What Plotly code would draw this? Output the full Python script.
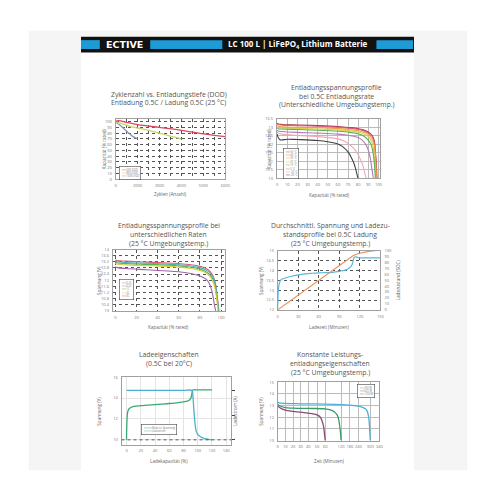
import plotly.graph_objects as go
import numpy as np

W = H = 500
FONT = "Open Sans"

# ---------------- DATA ----------------
# Plot 1: cycle life vs DOD (axis labels as printed on the sheet)
p1_ticks = [0, 2000, 3000, 4000, 5000, 6000]
p1_tickpos = [0, 1, 2, 3, 4, 5]
p1_names = ["100% DOD", "80% DOD", "50% DOD"]
p1_colors = ["#8a93b8", "#c9d46a", "#d64a5c"]
p1_x = [[0, 400, 800, 1200, 1600, 2000],
        [0, 500, 1000, 1500, 2000, 2500, 3000, 3500, 4000],
        [0, 300, 1000, 2000, 3000, 4000, 5000, 6000]]
p1_y = [[99, 94, 87, 80, 74, 70],
        [100, 97, 94, 91, 89, 85, 80, 75, 70],
        [101, 102, 99, 95, 90, 85, 79, 74]]

# Plot 2: discharge at 0.5C, different temperatures
p2_names = ["55 °C", "45 °C", "35 °C", "25 °C", "15 °C", "5 °C", "-10 °C", "-20 °C"]
p2_colors = ["#a8324a", "#e0607a", "#f0a040", "#d8d040", "#58b058", "#b57ab8", "#f0a8b8", "#404040"]
p2_x = [[0, 1, 5, 20, 40, 60, 70, 80, 85, 90, 94, 96, 97, 98, 98.5],
        [0, 1, 5, 20, 40, 60, 70, 80, 85, 90, 94, 96, 97, 98, 98.5],
        [0, 1, 5, 20, 40, 60, 70, 80, 85, 90, 94, 96, 97, 97.5, 98],
        [0, 1, 5, 20, 40, 60, 70, 80, 85, 90, 93, 95, 96, 97, 97.5],
        [0, 1, 5, 20, 40, 60, 70, 80, 85, 90, 93, 95, 96, 96.5, 97],
        [0, 1, 5, 20, 40, 60, 70, 80, 84, 88, 90, 92, 93, 94, 95],
        [0, 1, 5, 20, 40, 60, 65, 70, 75, 80, 83, 85, 86, 87, 88],
        [0, 1, 3, 10, 20, 40, 50, 60, 65, 70, 73, 76, 78, 79, 80]]
p2_y = [[13.25, 13.2, 13.17, 13.14, 13.1, 13.04, 12.99, 12.92, 12.85, 12.72, 12.5, 12.2, 11.6, 10.8, 10.0],
        [13.2, 13.16, 13.13, 13.1, 13.06, 13.0, 12.95, 12.88, 12.8, 12.66, 12.44, 12.1, 11.5, 10.7, 10.0],
        [13.1, 13.06, 13.03, 13.0, 12.97, 12.92, 12.87, 12.8, 12.72, 12.57, 12.3, 11.9, 11.3, 10.6, 10.0],
        [13.02, 12.99, 12.96, 12.94, 12.9, 12.85, 12.8, 12.72, 12.62, 12.45, 12.2, 11.8, 11.2, 10.6, 10.0],
        [12.95, 12.92, 12.9, 12.87, 12.83, 12.77, 12.72, 12.62, 12.5, 12.25, 11.95, 11.4, 10.9, 10.5, 10.0],
        [12.82, 12.78, 12.75, 12.7, 12.66, 12.6, 12.53, 12.4, 12.25, 11.95, 11.65, 11.2, 10.8, 10.4, 10.0],
        [12.72, 12.66, 12.6, 12.52, 12.45, 12.32, 12.22, 12.05, 11.8, 11.4, 11.0, 10.7, 10.45, 10.2, 10.0],
        [12.6, 12.4, 12.26, 12.3, 12.28, 12.22, 12.15, 12.02, 11.85, 11.55, 11.25, 10.85, 10.45, 10.2, 10.0]]

# Plot 3: discharge at different rates (25 °C)
p3_names = ["0.2C", "0.5C", "1C", "2C", "3C"]
p3_colors = ["#d8607a", "#48b0c0", "#58b058", "#d8d040", "#a060a8"]
p3_x = [[0, 2, 10, 30, 50, 60, 70, 80, 85, 90, 93, 95, 96, 97, 98],
        [0, 2, 10, 30, 50, 60, 70, 80, 85, 90, 93, 95, 96, 97, 97.8],
        [0, 2, 10, 30, 50, 60, 70, 80, 85, 90, 93, 95, 96, 97, 97.5],
        [0, 2, 10, 30, 50, 60, 70, 80, 85, 90, 93, 95, 96, 96.7, 97],
        [0, 2, 10, 30, 50, 60, 70, 80, 85, 88, 90, 92, 93, 94, 95]]
p3_y = [[13.32, 13.28, 13.24, 13.18, 13.12, 13.08, 13.02, 12.9, 12.8, 12.55, 12.2, 11.7, 11.2, 10.6, 10.0],
        [13.25, 13.2, 13.15, 13.1, 13.05, 13.0, 12.94, 12.82, 12.7, 12.45, 12.1, 11.6, 11.0, 10.5, 10.0],
        [13.18, 13.12, 13.08, 13.03, 12.98, 12.93, 12.86, 12.72, 12.58, 12.3, 11.95, 11.4, 10.9, 10.4, 10.0],
        [13.1, 13.05, 13.0, 12.95, 12.9, 12.85, 12.78, 12.64, 12.5, 12.2, 11.8, 11.2, 10.7, 10.3, 10.0],
        [12.88, 12.82, 12.76, 12.68, 12.6, 12.55, 12.45, 12.28, 12.1, 11.9, 11.6, 11.1, 10.7, 10.3, 10.0]]

# Plot 4: average voltage & SOC at 0.5C charge
p4_t = [0, 0.5, 1, 2, 3, 5, 10, 20, 30, 40, 50, 60, 70, 80, 90, 100, 104, 107, 109, 110, 111, 112, 114, 117, 120, 130, 140, 150]
p4_v = [12.1, 12.6, 13.0, 13.25, 13.4, 13.52, 13.6, 13.7, 13.77, 13.82, 13.85, 13.87, 13.88, 13.9, 13.95, 14.02, 14.1, 14.2, 14.32, 14.45, 14.6, 14.66, 14.68, 14.65, 14.63, 14.63, 14.63, 14.63]
p4_soc_t = [0, 30, 60, 90, 110, 118, 125, 135, 145, 150]
p4_soc = [0, 25, 50, 75, 91, 95, 97, 99, 100, 100]

# Plot 5: charge characteristics 0.5C at 20 °C
p5_names = ["Batterie-Spannung", "Ladestrom"]
p5_colors = ["#3aa874", "#4ab0cc"]
p5_cap = [0, 0.3, 0.8, 1.5, 2.5, 4, 6, 10, 20, 30, 40, 50, 60, 70, 80, 85, 88, 90, 91, 92, 93, 100, 110, 120]
p5_volt = [10.0, 11.2, 12.1, 12.6, 12.85, 13.0, 13.1, 13.2, 13.27, 13.32, 13.38, 13.43, 13.48, 13.55, 13.63, 13.7, 13.8, 13.95, 14.15, 14.5, 14.78, 14.78, 14.78, 14.78]
p5_icap = [0, 20, 40, 60, 80, 92, 93, 94, 95, 96, 97, 98, 100, 103, 106, 110, 115, 120]
p5_curr = [50, 50, 50, 50, 50, 50, 46, 36, 26, 18, 12, 8.5, 5.5, 3.5, 2.2, 1.2, 0.5, 0]
p5_curr_ticks = [0, 25, 50]

# Plot 6: constant power discharge (axis labels as printed on the sheet)
p6_names = ["250 W", "625 W", "1250 W"]
p6_colors = ["#4ab0d8", "#3a9a6a", "#8a4a7a"]
p6_ticks = [0, 10, 20, 30, 40, 50, 60, 120, 180, 240, 300, 340]
p6_tickpos = [0, 7.5, 15.2, 22.5, 30, 38.7, 46.8, 62.3, 71, 79.4, 91, 100]
p6_t = [[0, 2, 10, 30, 60, 120, 180, 220, 240, 260, 275, 285, 292, 297, 300],
        [0, 2, 10, 20, 40, 60, 80, 95, 105, 110, 114, 117, 119, 120],
        [0, 2, 10, 20, 30, 40, 50, 54, 56, 58, 59, 60]]
p6_v = [[13.3, 13.22, 13.18, 13.15, 13.12, 13.08, 13.03, 12.98, 12.95, 12.85, 12.72, 12.5, 12.0, 11.0, 10.0],
        [13.1, 13.0, 12.82, 12.78, 12.75, 12.72, 12.62, 12.45, 12.2, 11.9, 11.4, 10.9, 10.4, 10.0],
        [13.0, 12.85, 12.6, 12.5, 12.43, 12.35, 12.2, 12.0, 11.7, 11.2, 10.6, 10.0]]

# ---------------- HELPERS ----------------
def dx(a, b):
    return [a / W, b / W]

def dy(top, bot):
    return [1 - bot / H, 1 - top / H]

def px(x):
    return x / W

def py(y):
    return 1 - y / H

TICKFONT = dict(family=FONT, size=4, color="#777")

def axis(domain, rng, anchor, grid="#bbb", dash="solid", **kw):
    d = dict(domain=domain, range=rng, anchor=anchor, showline=True, mirror=True,
             linecolor="#a0a0a0", linewidth=0.8, showgrid=True, gridcolor=grid,
             griddash=dash, gridwidth=0.6, zeroline=False, tickfont=TICKFONT,
             ticks="", ticklabelstandoff=2, tickangle=0)
    d.update(kw)
    return d

fig = go.Figure()

for n, c, x, y in zip(p1_names, p1_colors, p1_x, p1_y):
    xd = np.interp(x, p1_ticks, p1_tickpos)
    fig.add_trace(go.Scatter(x=xd, y=y, mode="lines", name=n, line=dict(color=c, width=1.3, shape="spline"),
                             xaxis="x", yaxis="y", showlegend=False))
for n, c, x, y in zip(p2_names, p2_colors, p2_x, p2_y):
    fig.add_trace(go.Scatter(x=x, y=y, mode="lines", name=n, line=dict(color=c, width=1.1, shape="spline"),
                             xaxis="x2", yaxis="y2", showlegend=False))
for n, c, x, y in zip(p3_names, p3_colors, p3_x, p3_y):
    fig.add_trace(go.Scatter(x=x, y=y, mode="lines", name=n, line=dict(color=c, width=1.1, shape="spline"),
                             xaxis="x3", yaxis="y3", showlegend=False))
fig.add_trace(go.Scatter(x=p4_soc_t, y=p4_soc, mode="lines", name="SOC", line=dict(color="#e8905a", width=1.1),
                         xaxis="x4", yaxis="y7", showlegend=False))
fig.add_trace(go.Scatter(x=p4_t, y=p4_v, mode="lines", name="Spannung", line=dict(color="#5ab8d8", width=1.2, shape="spline"),
                         xaxis="x4", yaxis="y4", showlegend=False))
fig.add_trace(go.Scatter(x=p5_cap, y=p5_volt, mode="lines", name=p5_names[0], line=dict(color=p5_colors[0], width=1.3, shape="spline"),
                         xaxis="x5", yaxis="y5", showlegend=False))
fig.add_trace(go.Scatter(x=p5_icap, y=p5_curr, mode="lines", name=p5_names[1], line=dict(color=p5_colors[1], width=1.3, shape="spline"),
                         xaxis="x5", yaxis="y8", showlegend=False))
for n, c, t, v in zip(p6_names, p6_colors, p6_t, p6_v):
    xd = np.interp(t, p6_ticks, p6_tickpos)
    fig.add_trace(go.Scatter(x=xd, y=v, mode="lines", name=n, line=dict(color=c, width=1.3, shape="spline"),
                             xaxis="x6", yaxis="y6", showlegend=False))

# Plot frames (px): left, right, top, bottom
F1 = (116, 227, 117, 178)
F2 = (279, 384, 117, 177)
F3 = (113, 227, 249, 311)
F4 = (280, 384, 250, 310)
F5 = (122, 233, 378, 446)
F6 = (280, 383, 383, 442)

dark = "#555"
layout = dict(
    width=W, height=H, margin=dict(l=0, r=0, t=0, b=0),
    paper_bgcolor="white", plot_bgcolor="white", showlegend=False,
    font=dict(family=FONT, color="#555"),
    xaxis=axis(dx(F1[0], F1[1]), [0, 5], "y", grid=dark, dash="dot",
               tickvals=p1_tickpos, ticktext=[str(t) for t in p1_ticks], minor=dict(dtick=0.5, showgrid=True, gridcolor=dark, griddash="dot", gridwidth=0.6)),
    yaxis=axis(dy(F1[2], F1[3]), [0, 105], "x", grid=dark, dash="dot", dtick=10),
    xaxis2=axis(dx(F2[0], F2[1]), [-0.5, 102], "y2", dtick=10),
    yaxis2=axis(dy(F2[2], F2[3]), [10, 13.5], "x2", dtick=0.5),
    xaxis3=axis(dx(F3[0], F3[1]), [-2.5, 104], "y3", grid=dark, dash="dot", dtick=20),
    yaxis3=axis(dy(F3[2], F3[3]), [10, 14], "x3", grid=dark, dash="dot", tick0=10, dtick=0.4),
    xaxis4=axis(dx(F4[0], F4[1]), [0, 150], "y4", grid=dark, dash="dot", dtick=30),
    yaxis4=axis(dy(F4[2], F4[3]), [12, 15], "x4", grid=dark, dash="dot", dtick=0.5),
    yaxis7=dict(domain=dy(F4[2], F4[3]), range=[0, 100], anchor="x4", overlaying="y4", side="right",
                showgrid=False, zeroline=False, showline=False, dtick=10, tickfont=TICKFONT, ticklabelstandoff=3),
    xaxis5=axis(dx(F5[0], F5[1]), [-7, 147], "y5", grid="#e4e4e4", dtick=20, tick0=0),
    yaxis5=axis(dy(F5[2], F5[3]), [9.55, 16], "x5", grid="#e4e4e4", tickvals=[10, 12, 14, 16]),
    yaxis8=dict(domain=dy(F5[2], F5[3]), range=[-4.8, 63.4], anchor="x5", overlaying="y5", side="right",
                showgrid=False, zeroline=False, showline=False, tickvals=p5_curr_ticks, showticklabels=False,
                ticks="outside", ticklen=3, tickcolor="#444", tickwidth=0.8),
    xaxis6=axis(dx(F6[0], F6[1]), [0, 100], "y6", tickvals=p6_tickpos, ticktext=[str(t) for t in p6_ticks]),
    yaxis6=axis(dy(F6[2], F6[3]), [10, 15], "x6", dtick=1),
)
fig.update_layout(**layout)

shapes = []
shapes.append(dict(type="rect", xref="paper", yref="paper", x0=px(28), x1=px(472), y0=py(472), y1=py(28),
                   fillcolor="#f5f5f5", line=dict(width=0), layer="below"))
shapes.append(dict(type="rect", xref="paper", yref="paper", x0=px(81), x1=px(418), y0=py(472), y1=py(34),
                   fillcolor="white", line=dict(width=0), layer="below"))
shapes.append(dict(type="rect", xref="paper", yref="paper", x0=px(81), x1=px(418), y0=py(50), y1=py(34),
                   fillcolor="#111", line=dict(width=0)))
for a, b in [(81, 100), (151, 224), (380, 417)]:
    shapes.append(dict(type="rect", xref="paper", yref="paper", x0=px(a), x1=px(b), y0=py(46.5), y1=py(37.5),
                       fillcolor="#1d9bd7", line=dict(width=0)))
shapes.append(dict(type="line", xref="x5 domain", yref="y5", x0=0, x1=1, y0=10, y1=10,
                   line=dict(color="#333", width=0.8, dash="dot")))
fig.update_layout(shapes=shapes)

ann = []

def text(t, x, y, size, color, family=FONT, angle=0, xanchor="center", yanchor="middle"):
    ann.append(dict(text=t, x=px(x), y=py(y), xref="paper", yref="paper", showarrow=False, textangle=angle,
                    xanchor=xanchor, yanchor=yanchor, font=dict(family=family, size=size, color=color)))

text("<b>ECTIVE</b>", 125, 42, 9.5, "white", family="DejaVu Sans")
text("<b>LC 100 L | LiFePO<sub>4</sub> Lithium Batterie</b>", 301, 42, 8, "white")

def title(lines, cx, y0):
    for i, ln in enumerate(lines):
        text(ln, cx, y0 + 9 * i, 6.8, "#555")

title(["Zyklenzahl vs. Entladungstiefe (DOD)", "Entladung 0.5C / Ladung 0.5C (25 °C)"], 170, 92)
title(["Entladungsspannungsprofile", "bei 0.5C Entladungsrate", "(Unterschiedliche Umgebungstemp.)"], 340, 85)
title(["Entladungsspannungsprofile bei", "unterschiedlichen Raten", "(25 °C Umgebungstemp.)"], 170, 225)
title(["Durchschnittl. Spannung und Ladezu-", "standsprofile bei 0.5C Ladung", "(25 °C Umgebungstemp.)"], 333, 225)
title(["Ladeeigenschaften", "(0.5C bei 20°C)"], 170, 355)
title(["Konstante Leistungs-", "entladungseigenschaften", "(25 °C Umgebungstemp.)"], 333, 355)

def atitle(t, x, y, angle=0):
    text(t, x, y, 4.6, "#666", angle=angle)

atitle("Zyklen (Anzahl)", 172, 193)
atitle("Kapazität (% rated)", 104, 147, -90)
atitle("Kapazität (% rated)", 332, 194)
atitle("Kapazität (% rated)", 271, 147, -90)
atitle("Kapazität (% rated)", 170, 327)
atitle("Spannung (V)", 99, 280, -90)
atitle("Ladezeit (Minuten)", 332, 327)
atitle("Spannung (V)", 263, 280, -90)
atitle("Ladezustand (SOC)", 402, 280, -90)
atitle("Ladekapazität (%)", 170, 463)
atitle("Spannung (V)", 99, 412, -90)
atitle("Ladestrom (A)", 237, 412, -90)
atitle("Zeit (Minuten)", 332, 463)
atitle("Spannung (V)", 263, 412, -90)

def legend(names, colors, x, y, xanchor="left", size=2.6, dash="━━"):
    t = "<br>".join(f"<span style='color:{c}'>{dash}</span> {n}" for n, c in zip(names, colors))
    ann.append(dict(text=t, x=px(x), y=py(y), xref="paper", yref="paper", showarrow=False, align="left",
                    xanchor=xanchor, yanchor="top", bordercolor="#444", borderwidth=0.6, borderpad=1,
                    bgcolor="white", font=dict(family=FONT, size=size, color="#777")))

legend(p1_names[::-1], p1_colors[::-1], 119, 165)
legend(p2_names, p2_colors, 285, 146)
legend(p3_names, p3_colors, 119, 279)
legend(p5_names, p5_colors, 142, 425, dash="━━━━")
legend(p6_names, p6_colors, 379, 385, xanchor="right")

fig.update_layout(annotations=ann)
fig.write_html("out.html", config={"displayModeBar": False},
               post_script="document.body.style.margin='0';")
